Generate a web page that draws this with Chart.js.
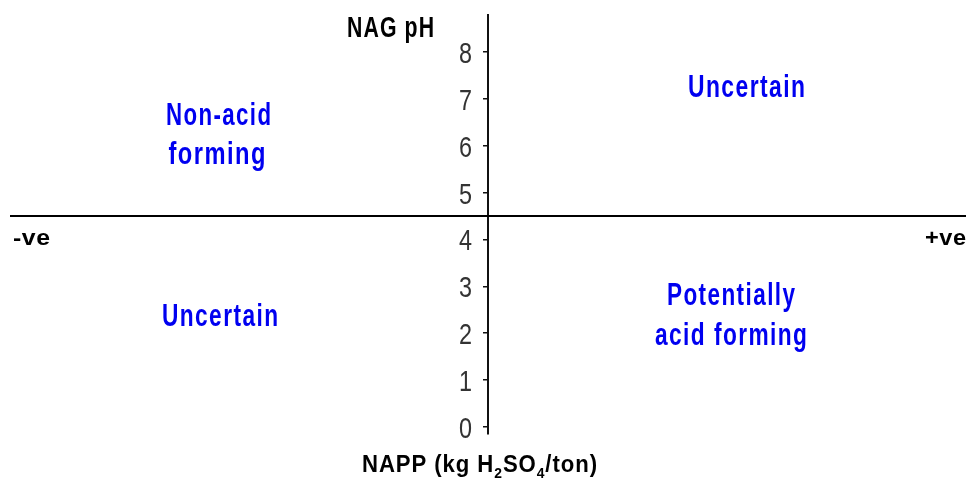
<!DOCTYPE html>
<html lang="en">
<head>
  <meta charset="UTF-8" />
  <title>NAG pH vs NAPP classification</title>
  <script src="https://cdn.jsdelivr.net/npm/chart.js"></script>
  <style>
    html, body { margin: 0; padding: 0; background: #fff; }
    #wrap { width: 966px; height: 485px; }
  </style>
</head>
<body>
  <div id="wrap"><canvas id="chart"></canvas></div>
  <script>
    // y axis: NAG pH ticks
    const phTicks = [0, 1, 2, 3, 4, 5, 6, 7, 8];
    const phMin = -0.15;
    const phMax = 8.79;
    // NAG pH threshold separating the quadrants
    const phThreshold = 4.5;
    // NAPP extent, negative on the left, positive on the right
    const nappExtent = [-1, 1];

    // quadrant labels: text, centre x, baseline y, width in px
    const quadrantLines = [
      { text: 'Non-acid', x: 218.5, y: 125, w: 105 },
      { text: 'forming', x: 217, y: 164, w: 97 },
      { text: 'Uncertain', x: 746.5, y: 97, w: 117 },
      { text: 'Uncertain', x: 220, y: 326, w: 116 },
      { text: 'Potentially', x: 731, y: 305, w: 128 },
      { text: 'acid forming', x: 731, y: 345, w: 152 }
    ];

    const FONT = "'Liberation Sans', Arial, sans-serif";

    // draws text squeezed horizontally to a given width
    function fitText(ctx, text, x, y, font, width, align, color, spacing) {
      ctx.save();
      ctx.font = font;
      ctx.fillStyle = color;
      ctx.textBaseline = 'alphabetic';
      ctx.textAlign = 'left';
      const sp = spacing || 0;
      ctx.letterSpacing = sp + 'px';
      const natural = ctx.measureText(text).width - sp;
      const s = width / natural;
      let left = x;
      if (align === 'center') left = x - width / 2;
      if (align === 'right') left = x - width;
      ctx.translate(left, y);
      ctx.scale(s, 1);
      ctx.fillText(text, 0, 0);
      ctx.restore();
    }

    const labelsPlugin = {
      id: 'labels',
      afterDraw(chart) {
        const ctx = chart.ctx;
        const yScale = chart.scales.y;

        // tick labels, placed through the y scale
        yScale.ticks.forEach(t => {
          const py = yScale.getPixelForValue(t.value);
          fitText(ctx, String(t.value), 472, py + 11, '30px ' + FONT, 13, 'right', '#333');
        });

        quadrantLines.forEach(l => fitText(ctx, l.text, l.x, l.y, 'bold 32px ' + FONT, l.w, 'center', '#0000f0', 2));
        fitText(ctx, 'NAG pH', 347, 37, 'bold 29px ' + FONT, 87, 'left', '#000', 1.5);
        fitText(ctx, '-ve', 13, 245, 'bold 22px ' + FONT, 37, 'left', '#000', 0.5);
        fitText(ctx, '+ve', 966, 245, 'bold 22px ' + FONT, 41, 'right', '#000', 0.5);

        // NAPP (kg H2SO4/ton) with subscripts
        const parts = [
          { t: 'NAPP (kg H', sub: false },
          { t: '2', sub: true },
          { t: 'SO', sub: false },
          { t: '4', sub: true },
          { t: '/ton)', sub: false }
        ];
        ctx.save();
        ctx.letterSpacing = '1px';
        let total = 0;
        parts.forEach(p => {
          ctx.font = 'bold ' + (p.sub ? 15 : 24) + 'px ' + FONT;
          p.w = ctx.measureText(p.t).width;
          total += p.w;
        });
        const s = 235 / (total - 1);
        ctx.translate(362, 0);
        ctx.scale(s, 1);
        ctx.fillStyle = '#000';
        ctx.textBaseline = 'alphabetic';
        ctx.textAlign = 'left';
        let cx = 0;
        parts.forEach(p => {
          ctx.font = 'bold ' + (p.sub ? 15 : 24) + 'px ' + FONT;
          ctx.fillText(p.t, cx, p.sub ? 478 : 472);
          cx += p.w;
        });
        ctx.restore();
      }
    };

    new Chart(document.getElementById('chart'), {
      type: 'scatter',
      data: {
        datasets: [{
          type: 'line',
          data: [{ x: nappExtent[0], y: phThreshold }, { x: nappExtent[1], y: phThreshold }],
          borderColor: '#000',
          borderWidth: 2,
          pointRadius: 0,
          clip: false
        }]
      },
      options: {
        responsive: true,
        maintainAspectRatio: false,
        animation: false,
        events: [],
        layout: { padding: { left: 10, right: 0, top: 15, bottom: 51 } },
        plugins: { legend: { display: false }, tooltip: { enabled: false } },
        scales: {
          x: { type: 'linear', display: false, min: 0, max: nappExtent[1] },
          y: {
            type: 'linear',
            position: 'left',
            min: phMin,
            max: phMax,
            afterBuildTicks: axis => { axis.ticks = phTicks.map(v => ({ value: v })); },
            afterFit: axis => {
              axis.width = 478;
              axis.paddingTop = 0;
              axis.paddingBottom = 0;
            },
            border: { display: true, color: '#111', width: 2 },
            grid: { drawOnChartArea: false, drawTicks: true, tickLength: 5, color: '#111', lineWidth: 1.5 },
            ticks: { display: false }
          }
        }
      },
      plugins: [labelsPlugin]
    });
  </script>
</body>
</html>
